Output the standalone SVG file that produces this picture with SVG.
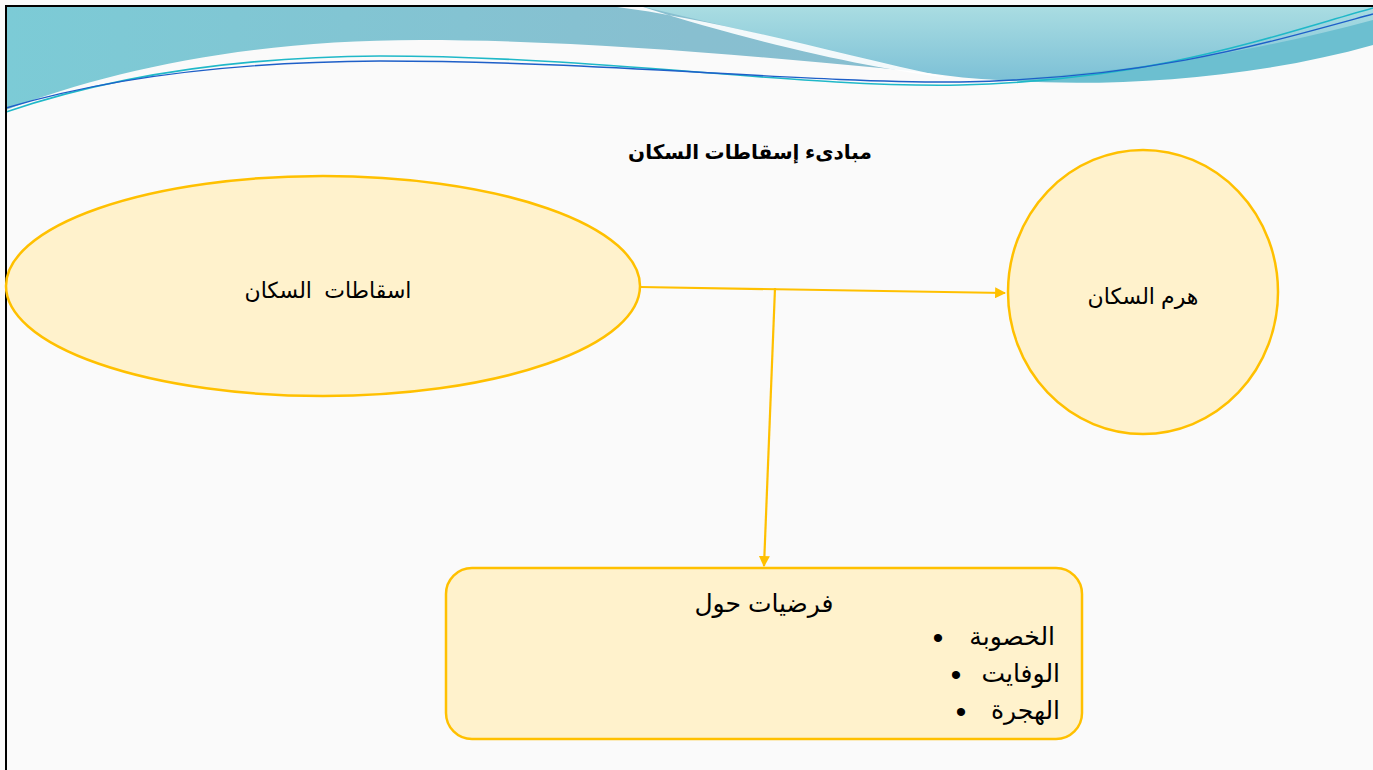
<svg xmlns="http://www.w3.org/2000/svg" width="1373" height="770" viewBox="0 0 1373 770">
<defs>
<linearGradient id="bandL" x1="0" y1="0" x2="1" y2="0">
<stop offset="0" stop-color="#7ccbd6"/>
<stop offset="0.5" stop-color="#88bfd0"/>
<stop offset="1" stop-color="#86bfd2"/>
</linearGradient>
<linearGradient id="bandR" x1="0" y1="0" x2="0" y2="1">
<stop offset="0" stop-color="#aadde2"/>
<stop offset="1" stop-color="#7cc0d6"/>
</linearGradient>
<marker id="arr" viewBox="0 0 10 10" refX="9" refY="5" markerWidth="5" markerHeight="5" orient="auto" markerUnits="strokeWidth">
<path d="M0,0 L10,5 L0,10 z" fill="#ffc000"/>
</marker>
<style>
.node{fill:#fff2cc;stroke:#ffc000;stroke-width:2.5}
.lbl{font-family:"Liberation Sans","DejaVu Sans",sans-serif;font-size:22px;fill:#000}
.ttl{font-family:"Liberation Sans","DejaVu Sans",sans-serif;font-size:20px;font-weight:bold;fill:#000}
.item{font-family:"Liberation Sans","DejaVu Sans",sans-serif;font-size:25px;fill:#000}
.bul{font-family:"Liberation Sans","DejaVu Sans",sans-serif;font-size:30px;fill:#000}
.conn{stroke:#ffc000;stroke-width:2.2;fill:none}
</style>
</defs>
<rect x="0" y="0" width="1373" height="770" fill="#fafafa"/>
<g id="header">
<path d="M6,6 L1373,6 L1373,40 C1250,75 1100,85 1000,80 C800,60 600,40 420,40 C250,40 110,70 6,110 Z" fill="url(#bandL)"/>
<path d="M640,6 L1373,6 L1373,40 C1250,75 1100,85 1000,80 C950,78 900,70 860,58 Z" fill="url(#bandR)"/>
<path d="M610,6 C720,20 820,50 950,78 C880,70 760,45 640,6 Z" fill="#ffffff" opacity="0.9"/>
<path d="M1000,80 C1150,70 1260,50 1373,20 L1373,45 C1250,80 1100,88 1000,80 Z" fill="#6cbfd0"/>
<path d="M6,112 C100,80 220,57 380,56 C600,56 800,88 960,85 C1150,80 1260,40 1373,8" stroke="#1fb8c8" stroke-width="1.6" fill="none"/>
<path d="M6,108 C100,80 220,62 380,61 C600,61 800,83 960,82 C1150,78 1260,45 1373,14" stroke="#1e5fc8" stroke-width="1.4" fill="none"/>
</g>
<g id="frame">
<path d="M6,770 L6,6 L1373,6" stroke="#000" stroke-width="2" fill="none"/>
</g>
<g id="title">
<text class="ttl" x="750" y="159" text-anchor="middle" direction="rtl">مبادىء إسقاطات السكان</text>
</g>
<g id="connectors">
<path class="conn" d="M640,287 L1005,293" marker-end="url(#arr)"/>
<path class="conn" d="M775,288 L764,566" marker-end="url(#arr)"/>
</g>
<g id="node-projections">
<ellipse class="node" cx="323" cy="286" rx="317" ry="110"/>
<text class="lbl" x="328" y="298" text-anchor="middle" direction="rtl" xml:space="preserve">اسقاطات  السكان</text>
</g>
<g id="node-pyramid">
<ellipse class="node" cx="1143" cy="292" rx="135" ry="142"/>
<text class="lbl" x="1143" y="304" text-anchor="middle" direction="rtl">هرم السكان</text>
</g>
<g id="node-assumptions">
<rect class="node" x="446" y="568" width="636" height="171" rx="26" ry="26"/>
<text class="item" x="764" y="612" text-anchor="middle" direction="rtl">فرضيات حول</text>
<text class="item" x="1055" y="645" text-anchor="end" direction="ltr">الخصوبة</text>
<text class="bul" x="938" y="648" text-anchor="middle">•</text>
<text class="item" x="1060" y="682" text-anchor="end" direction="ltr">الوفايت</text>
<text class="bul" x="956" y="685" text-anchor="middle">•</text>
<text class="item" x="1060" y="719" text-anchor="end" direction="ltr">الهجرة</text>
<text class="bul" x="961" y="722" text-anchor="middle">•</text>
</g>
</svg>
